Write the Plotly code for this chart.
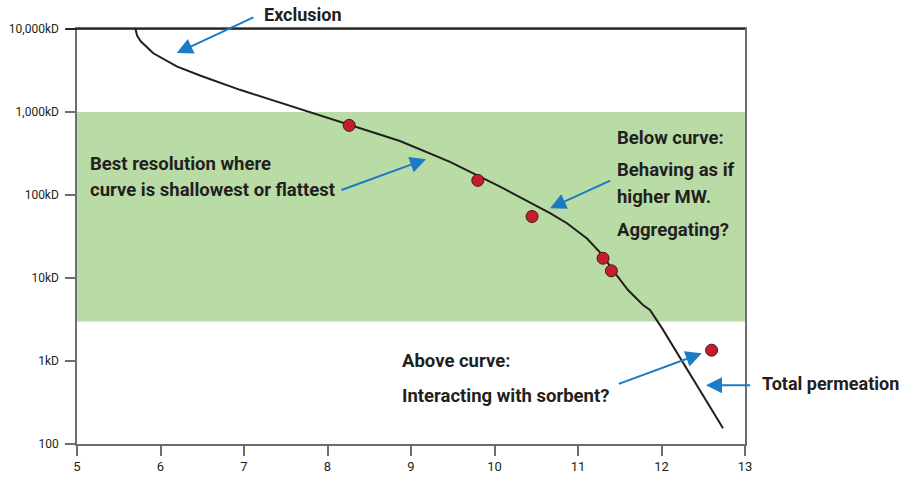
import plotly.graph_objects as go

# calibration curve (elution volume vs molecular weight, Da)
curve_x = [5.70, 5.72, 5.763, 5.914, 6.194, 6.473, 6.952, 7.431, 7.910, 8.257,
           8.868, 9.467, 9.802, 10.066, 10.461, 10.665, 10.868, 11.108, 11.299,
           11.407, 11.599, 11.778, 11.862, 12.006, 12.737]
curve_mw = [1.0e7, 8.3e6, 7.1e6, 5.1e6, 3.54e6, 2.75e6, 1.85e6, 1.30e6, 9.08e5, 7.02e5,
            4.47e5, 2.51e5, 1.72e5, 1.26e5, 7.76e4, 6.03e4, 4.57e4, 2.99e4, 1.86e4,
            1.28e4, 7.16e3, 4.72e3, 4.11e3, 2.49e3, 155]

# measured samples
pts_x = [8.26, 9.80, 10.45, 11.30, 11.40, 12.60]
pts_mw = [6.9e5, 1.5e5, 5.5e4, 1.73e4, 1.22e4, 1.35e3]

# resolving range band
band_x = [5, 13, 13, 5]
band_mw = [3000, 3000, 1e6, 1e6]

xticks = [5, 6, 7, 8, 9, 10, 11, 12, 13]
yticks = [1e2, 1e3, 1e4, 1e5, 1e6, 1e7]
ytick_text = ["100", "1kD", "10kD", "100kD", "1,000kD", "10,000kD"]

FONT = "Roboto, Liberation Sans, sans-serif"
TXT = "#231f20"
BLUE = "#1b7bc4"
AX = "#6d6e71"

fig = go.Figure()

fig.add_trace(go.Scatter(x=band_x, y=band_mw, mode="lines", fill="toself",
                         fillcolor="#b9dba5", line=dict(width=0), hoverinfo="skip"))
fig.add_trace(go.Scatter(x=curve_x, y=curve_mw, mode="lines",
                         line=dict(color=TXT, width=2), hoverinfo="skip"))
fig.add_trace(go.Scatter(x=pts_x, y=pts_mw, mode="markers",
                         marker=dict(size=12, color="#c41e2e",
                                     line=dict(color="#4a1515", width=1))))

# top border line in black
fig.add_shape(type="line", xref="paper", yref="paper", x0=-0.017, x1=1, y0=1, y1=1,
              line=dict(color="#111111", width=1.5))

# text labels inside the axes (left edge, log10 y)
labels = [
    ("Best resolution where", 5.132, 5.375),
    ("curve is shallowest or flattest", 5.132, 5.061),
    ("Below curve:", 11.443, 5.683),
    ("Behaving as if", 11.443, 5.297),
    ("higher MW.", 11.443, 4.971),
    ("Aggregating?", 11.443, 4.579),
    ("Above curve:", 8.868, 3.0),
    ("Interacting with sorbent?", 8.868, 2.577),
]
for t, lx, ly in labels:
    fig.add_annotation(x=lx, y=ly, text=t, showarrow=False, xanchor="left",
                       yanchor="middle", xref="x", yref="y",
                       font=dict(family=FONT, size=18.5, color=TXT, weight="bold"))

# labels outside the axes
for t, px_, py_ in [("Exclusion", 0.277, 1.036), ("Total permeation", 1.022, 0.1446)]:
    fig.add_annotation(x=px_, y=py_, text=t, showarrow=False, xanchor="left",
                       yanchor="middle", xref="paper", yref="paper",
                       font=dict(family=FONT, size=18, color=TXT, weight="bold"))

# arrows: (tail x, tail log y, head x, head log y)
arrows = [
    (7.13, 7.148, 6.194, 6.71),
    (8.150, 5.053, 9.180, 5.432),
    (11.404, 5.182, 10.665, 4.841),
    (11.471, 2.718, 12.482, 3.092),
    (13.08, 2.709, 12.533, 2.709),
]
for ax_, ay_, hx, hy in arrows:
    fig.add_annotation(x=hx, y=hy, ax=ax_, ay=ay_, xref="x", yref="y",
                       axref="x", ayref="y", text="", showarrow=True,
                       arrowhead=2, arrowsize=1.6, arrowwidth=2, arrowcolor=BLUE)

fig.update_xaxes(range=[5, 13], tickvals=xticks, showgrid=False, zeroline=False,
                 showline=True, linecolor=AX, linewidth=1.5, mirror=True,
                 ticks="outside", ticklen=10, tickcolor=AX, tickwidth=1.5,
                 automargin=False,
                 tickfont=dict(family=FONT, size=13, color=TXT))
fig.update_yaxes(type="log", range=[2, 7], tickvals=yticks, ticktext=ytick_text,
                 showgrid=False, zeroline=False,
                 showline=True, linecolor=AX, linewidth=1.5, mirror=True,
                 ticks="outside", ticklen=10, tickcolor=AX, tickwidth=1.5,
                 ticklabelstandoff=4, automargin=False,
                 tickfont=dict(family=FONT, size=12, color=TXT))

fig.update_layout(width=900, height=481, showlegend=False,
                  plot_bgcolor="white", paper_bgcolor="white",
                  margin=dict(l=77, r=155, t=29, b=37))

# drop the default 8px page margin so the figure sits at the window corner
fig.write_html("out.html", config={"displayModeBar": False},
               post_script="document.body.style.margin='0px';")
